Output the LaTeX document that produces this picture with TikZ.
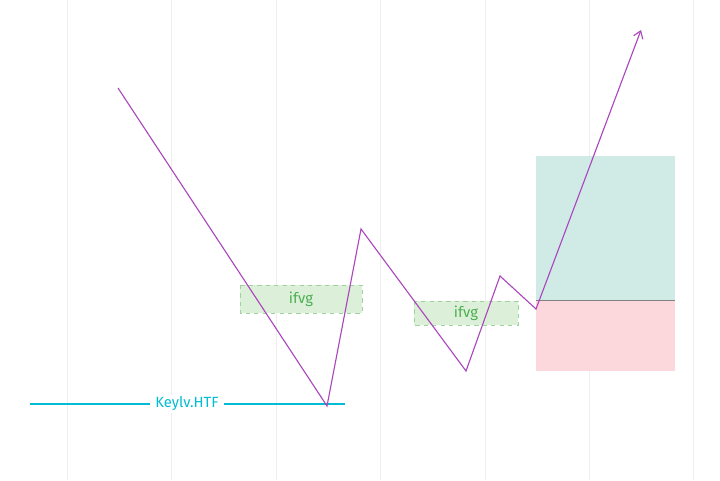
\documentclass[tikz,border=0pt]{standalone}
\usepackage{fontspec}
\setmainfont{Fira Sans}
\usetikzlibrary{positioning,calc,arrows.meta}
\definecolor{pathpurple}{HTML}{AB47BC}
\definecolor{keycyan}{HTML}{00BCD4}
\definecolor{fvgfill}{HTML}{DCEFD9}
\definecolor{fvgline}{HTML}{9ED39F}
\definecolor{fvgtext}{HTML}{4CAF50}
\definecolor{tpfill}{HTML}{D0EBE6}
\definecolor{slfill}{HTML}{FCD7DB}
\definecolor{gridgray}{HTML}{EEEEEE}
\begin{document}
\begin{tikzpicture}[
  x=0.025cm, y=-0.025cm,
  gridline/.style={draw=gridgray, line width=0.5pt},
  fvgbox/.style={draw=fvgline, dashed, fill=fvgfill, line width=0.5pt},
  fvglabel/.style={text=fvgtext, font=\fontsize{10.5}{12}\selectfont},
  keyline/.style={draw=keycyan, line width=1pt},
  swing/.style={draw=pathpurple, line width=0.8pt, line join=miter},
  font=\fontsize{10.5}{12}\selectfont
]
\useasboundingbox (0,0) rectangle (720,480);

% grid
\foreach \gx in {67,171,276,380,485,589,693}
  \draw[gridline] (\gx,0) -- (\gx,480);

% position box
\fill[tpfill] (536,156) rectangle (675,300);
\fill[slfill] (536,300) rectangle (675,371);
\draw[gray, line width=0.6pt] (536,300) -- (675,300);

% fair value gaps
\draw[fvgbox] (240,285) rectangle (362,313);
\node[fvglabel] (fvga) at (301,299) {ifvg};
\draw[fvgbox] (414,301) rectangle (518,325);
\node[fvglabel] (fvgb) at (466,313) {ifvg};

% key level
\coordinate (keyL) at (30,404);
\coordinate (keyR) at (345,404);
\node[text=keycyan, fill=white, inner xsep=4pt, inner ysep=1pt] (keylbl) at (187,404) {Keylv.HTF};
\draw[keyline] (keyL) -- (keylbl.west);
\draw[keyline] (keylbl.east) -- (keyR);

% price path
\coordinate (p0) at (118,88);
\coordinate (p1) at (327,406);
\coordinate (p2) at (361,229);
\coordinate (p3) at (466,371);
\coordinate (p4) at (500,276);
\coordinate (p5) at (536,309);
\coordinate (p6) at (641,30);
\draw[swing, -{Straight Barb[length=5pt,width=7pt]}] (p0) -- (p1) -- (p2) -- (p3) -- (p4) -- (p5) -- (p6);

\end{tikzpicture}
\end{document}
